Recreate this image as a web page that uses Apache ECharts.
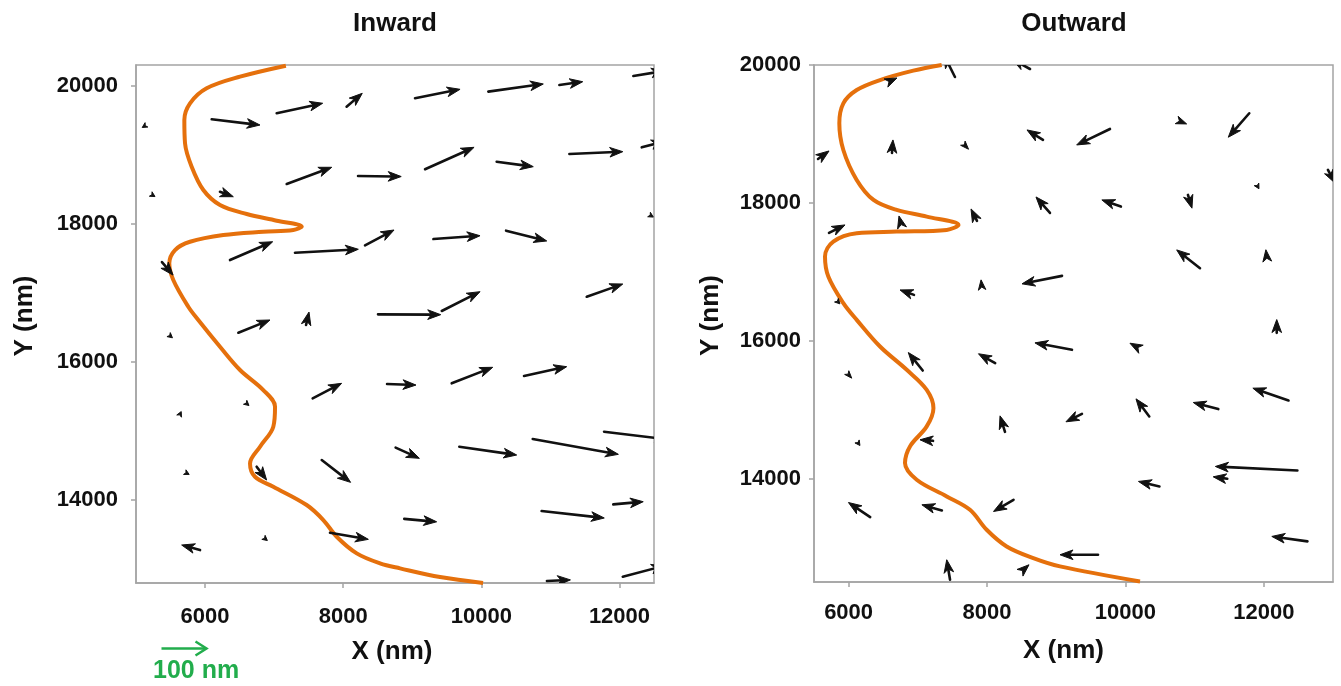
<!DOCTYPE html>
<html>
<head>
<meta charset="utf-8">
<title>Inward / Outward</title>
<script src="https://cdn.jsdelivr.net/npm/echarts@6.0.0/dist/echarts.min.js"></script>
<style>
  html, body { margin: 0; padding: 0; background: #fff; }
  #chart { width: 1341px; height: 686px; }
</style>
</head>
<body>
<div id="chart"></div>
<script>
// boundary of the cell edge, [x, y] in nm
const inwardBoundary = [
  [7170, 20290], [6506, 20131], [6023, 19963], [5782, 19745], [5700, 19504],
  [5710, 19166], [5806, 18827], [5975, 18490], [6216, 18273], [6603, 18142],
  [7037, 18046], [7400, 17960], [7278, 17911], [6843, 17886], [6264, 17838],
  [5782, 17741], [5565, 17621], [5482, 17428], [5540, 17187], [5757, 16800],
  [5902, 16608], [6216, 16221], [6506, 15884], [6843, 15594], [7013, 15352],
  [6988, 15063], [6796, 14773], [6651, 14532], [6723, 14338], [6988, 14194],
  [7471, 13929], [7712, 13712], [7906, 13470], [8196, 13229], [8533, 13085],
  [8823, 13012], [9402, 12886], [10025, 12800]
];

const outwardBoundary = [
  [7345, 20000], [6935, 19918], [6454, 19782], [6117, 19637], [5924, 19444],
  [5866, 19155], [5924, 18767], [6117, 18333], [6360, 18043], [6695, 17898],
  [7129, 17801], [7588, 17680], [7418, 17608], [6695, 17583], [6117, 17560],
  [5779, 17439], [5659, 17221], [5707, 16931], [5924, 16545], [6117, 16303],
  [6454, 15916], [6840, 15578], [7129, 15288], [7226, 15022], [7129, 14757],
  [6887, 14467], [6815, 14225], [6984, 13983], [7418, 13742], [7754, 13548],
  [7995, 13258], [8284, 13016], [8669, 12847], [9055, 12727], [10211, 12508]
];

// displacement arrows: [tailX, tailY, headX, headY] in nm (plot units)
const inwardArrows = [
  [5130, 19420, 5090, 19395], [6096, 19514, 6795, 19431], [7037, 19601, 7703, 19746],
  [8049, 19696, 8276, 19890], [9040, 19818, 9692, 19948], [10101, 19914, 10897, 20025],
  [11130, 20010, 11468, 20058], [12201, 20141, 12650, 20215],
  [5250, 18410, 5275, 18395], [6216, 18465, 6409, 18393], [7182, 18577, 7834, 18819],
  [8215, 18692, 8840, 18685], [9185, 18790, 9895, 19108], [10222, 18900, 10752, 18828],
  [11275, 19011, 12048, 19045], [12323, 19108, 12650, 19195], [12470, 18110, 12490, 18098],
  [5376, 17447, 5536, 17258], [6361, 17476, 6979, 17741], [7302, 17582, 8219, 17632],
  [8316, 17689, 8736, 17911], [9306, 17780, 9981, 17828], [10358, 17901, 10947, 17752],
  [5510, 16365, 5528, 16350], [6482, 16424, 6940, 16608], [7462, 16535, 7505, 16723],
  [8504, 16690, 9412, 16685], [9427, 16738, 9981, 17018], [11526, 16945, 12048, 17129],
  [5640, 15250, 5655, 15282], [6618, 15385, 6636, 15370], [7558, 15474, 7977, 15691],
  [8635, 15681, 9054, 15666], [9571, 15691, 10165, 15923], [10618, 15797, 11236, 15932],
  [5745, 14385, 5770, 14372], [6747, 14484, 6891, 14291], [7689, 14580, 8107, 14257],
  [8759, 14761, 9103, 14605], [9681, 14773, 10512, 14653], [10744, 14884, 11984, 14663],
  [11777, 14990, 12700, 14880],
  [5927, 13277, 5661, 13350], [6886, 13428, 6902, 13415], [7809, 13528, 8364, 13432],
  [8884, 13729, 9353, 13686], [10873, 13842, 11780, 13741], [11910, 13939, 12344, 13977],
  [10950, 12830, 11290, 12845], [12048, 12890, 12650, 13050]
];

const outwardArrows = [
  [6540, 19739, 6699, 19812], [7537, 19826, 7378, 20145], [8621, 19942, 8361, 20087],
  [5558, 18637, 5717, 18753], [6627, 18724, 6641, 18913], [7651, 18866, 7733, 18778],
  [8809, 18913, 8578, 19058], [9777, 19072, 9296, 18840], [10741, 19202, 10885, 19145],
  [11790, 19300, 11487, 18952], [12927, 18478, 13028, 18289],
  [5717, 17564, 5948, 17680], [6772, 17636, 6728, 17810], [7855, 17738, 7769, 17912],
  [8910, 17854, 8708, 18086], [9935, 17946, 9660, 18043], [10904, 18115, 10962, 17923],
  [11915, 18232, 11930, 18205],
  [5858, 16552, 5874, 16535], [6945, 16665, 6743, 16737], [7929, 16738, 7914, 16883],
  [9084, 16941, 8506, 16825], [11078, 17052, 10741, 17318], [12050, 17148, 12030, 17320],
  [12187, 16114, 12187, 16307],
  [5973, 15538, 6045, 15457], [7071, 15568, 6863, 15829], [8118, 15675, 7877, 15811],
  [9228, 15868, 8693, 15969], [10225, 15877, 10066, 15964],
  [10345, 14901, 10153, 15157], [11342, 15008, 10981, 15104], [12357, 15133, 11842, 15312],
  [6150, 14500, 6164, 14480], [7220, 14548, 7032, 14563], [8260, 14679, 8188, 14910],
  [9372, 14940, 9141, 14824],
  [12485, 14117, 11300, 14176], [11472, 13997, 11269, 14026], [10492, 13886, 10189, 13959],
  [6312, 13441, 5998, 13653], [7348, 13538, 7059, 13620], [8383, 13693, 8094, 13523],
  [12631, 13089, 12116, 13161], [9604, 12895, 9055, 12895],
  [7466, 12533, 7418, 12823], [8477, 12634, 8607, 12750]
];

const inwardXTicks = [6000, 8000, 10000, 12000];
const inwardYTicks = [14000, 16000, 18000, 20000];
const outwardXTicks = [6000, 8000, 10000, 12000];
const outwardYTicks = [14000, 16000, 18000, 20000];

const FONT = '"Liberation Sans", Arial, sans-serif';
const GRAY = '#a4a4a4';
const ORANGE = '#e5700c';
const GREEN = '#22ad4c';

const chart = echarts.init(document.getElementById('chart'), null, { renderer: 'canvas' });

// arrow glyph: shaft + notched head, head has a fixed pixel size
function renderArrow(params, api) {
  const p0 = api.coord([api.value(0), api.value(1)]);
  const p1 = api.coord([api.value(2), api.value(3)]);
  const dx = p1[0] - p0[0];
  const dy = p1[1] - p0[1];
  const len = Math.sqrt(dx * dx + dy * dy) || 1;
  const ux = dx / len, uy = dy / len;
  const nx = -uy, ny = ux;
  const h = Math.max(5, Math.min(13, len));
  const w = Math.max(2.6, h * 0.37);
  const bx = p1[0] - ux * h, by = p1[1] - uy * h;
  const children = [];
  if (len > h) {
    children.push({
      type: 'line',
      shape: { x1: p0[0], y1: p0[1], x2: p1[0] - ux * h * 0.6, y2: p1[1] - uy * h * 0.6 },
      style: { stroke: '#111', lineWidth: 2.6, lineCap: 'round' }
    });
  }
  children.push({
    type: 'polygon',
    shape: {
      points: [
        [p1[0], p1[1]],
        [bx + nx * w, by + ny * w],
        [p1[0] - ux * h * 0.72, p1[1] - uy * h * 0.72],
        [bx - nx * w, by - ny * w]
      ]
    },
    style: { fill: '#111', stroke: '#111', lineWidth: 1, lineJoin: 'round' }
  });
  return { type: 'group', children: children };
}

function plain(v) {
  return String(v);
}

function xAxis(gridIndex, min, max, ticks, margin, gap, namePad) {
  return {
    type: 'value', gridIndex: gridIndex, min: min, max: max,
    name: 'X (nm)', nameLocation: 'middle', nameGap: gap,
    nameTextStyle: { fontFamily: FONT, fontWeight: 'bold', fontSize: 26, color: '#111', padding: namePad },
    axisLine: { show: true, onZero: false, lineStyle: { color: GRAY, width: 1.5 } },
    axisTick: { show: true, length: 5, customValues: ticks, lineStyle: { color: GRAY, width: 1.5 } },
    axisLabel: {
      customValues: ticks, margin: margin, formatter: plain,
      fontFamily: FONT, fontWeight: 'bold', fontSize: 22, color: '#111'
    },
    splitLine: { show: false }
  };
}

function yAxis(gridIndex, min, max, ticks, margin, gap) {
  return {
    type: 'value', gridIndex: gridIndex, min: min, max: max,
    name: 'Y (nm)', nameLocation: 'middle', nameGap: gap,
    nameTextStyle: { fontFamily: FONT, fontWeight: 'bold', fontSize: 26, color: '#111', padding: [0, 0, 0, 16] },
    axisLine: { show: true, onZero: false, lineStyle: { color: GRAY, width: 1.5 } },
    axisTick: { show: true, length: 5, customValues: ticks, lineStyle: { color: GRAY, width: 1.5 } },
    axisLabel: {
      customValues: ticks, margin: margin, formatter: plain,
      fontFamily: FONT, fontWeight: 'bold', fontSize: 22, color: '#111'
    },
    splitLine: { show: false }
  };
}

const titleStyle = { fontFamily: FONT, fontWeight: 'bold', fontSize: 26, color: '#111' };

const option = {
  animation: false,
  backgroundColor: '#fff',
  title: [
    { text: 'Inward', left: 395, top: 11, textAlign: 'center', padding: 0, textStyle: titleStyle },
    { text: 'Outward', left: 1074, top: 11, textAlign: 'center', padding: 0, textStyle: titleStyle }
  ],
  grid: [
    { left: 136, top: 65, width: 518, height: 518, show: true, borderColor: GRAY, borderWidth: 1.5, containLabel: false },
    { left: 814, top: 65, width: 519, height: 517, show: true, borderColor: GRAY, borderWidth: 1.5, containLabel: false }
  ],
  xAxis: [
    xAxis(0, 5000, 12500, inwardXTicks, 23, 56, [0, 6, 0, 0]),
    xAxis(1, 5500, 13000, outwardXTicks, 20, 56, [0, 20, 0, 0])
  ],
  yAxis: [
    yAxis(0, 12800, 20300, inwardYTicks, 18, 98),
    yAxis(1, 12500, 20000, outwardYTicks, 13, 90)
  ],
  graphic: [
    {
      type: 'group', left: 159, top: 639,
      children: [
        { type: 'line', shape: { x1: 0, y1: 7, x2: 44, y2: 7 }, style: { stroke: GREEN, lineWidth: 2.5 } },
        { type: 'polyline', shape: { points: [[34, 0], [45, 7], [34, 14]] }, style: { stroke: GREEN, lineWidth: 2.5, fill: null } }
      ]
    },
    {
      type: 'text', left: 153, top: 659,
      style: { text: '100 nm', fill: GREEN, font: 'bold 25px ' + FONT }
    }
  ],
  series: [
    {
      type: 'line', xAxisIndex: 0, yAxisIndex: 0, data: inwardBoundary,
      smooth: 0.35, showSymbol: false, symbol: 'none', z: 2,
      lineStyle: { color: ORANGE, width: 4 }
    },
    {
      type: 'custom', xAxisIndex: 0, yAxisIndex: 0, data: inwardArrows,
      renderItem: renderArrow, clip: true, z: 3, silent: true
    },
    {
      type: 'line', xAxisIndex: 1, yAxisIndex: 1, data: outwardBoundary,
      smooth: 0.35, showSymbol: false, symbol: 'none', z: 2,
      lineStyle: { color: ORANGE, width: 4 }
    },
    {
      type: 'custom', xAxisIndex: 1, yAxisIndex: 1, data: outwardArrows,
      renderItem: renderArrow, clip: true, z: 3, silent: true
    }
  ]
};

chart.setOption(option);
</script>
</body>
</html>
